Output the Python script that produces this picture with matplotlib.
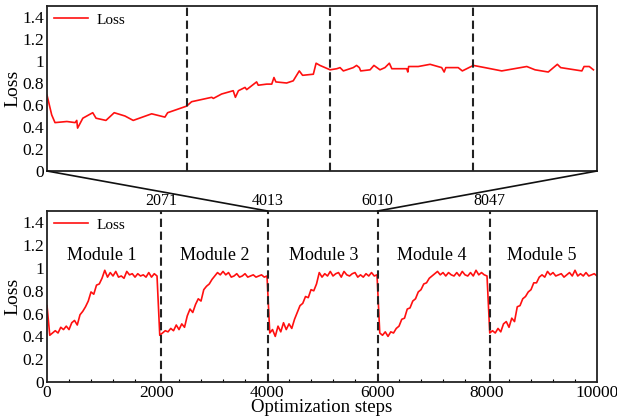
import numpy as np
import matplotlib
matplotlib.use("Agg")
import matplotlib.pyplot as plt
from matplotlib.patches import ConnectionPatch
from matplotlib.ticker import MultipleLocator

plt.rcParams['font.family'] = ['Liberation Serif', 'DejaVu Serif']

# bottom panel: full run, sampled every 50 steps
steps = np.arange(0, 10001, 50)
loss = [
    # module 1 (0 .. 2000)
    0.67, 0.41, 0.43, 0.45, 0.43, 0.48, 0.46, 0.49, 0.46, 0.52,
    0.54, 0.50, 0.59, 0.62, 0.66, 0.71, 0.79, 0.77, 0.85, 0.86,
    0.91, 0.98, 0.92, 0.96, 0.93, 0.97, 0.92, 0.93, 0.91, 0.97,
    0.94, 0.95, 0.92, 0.95, 0.93, 0.94, 0.92, 0.96, 0.92, 0.95,
    0.93,
    # module 2 (2050 .. 4000)
    0.41, 0.43, 0.45, 0.44, 0.47, 0.45, 0.50, 0.46, 0.51, 0.48,
    0.58, 0.64, 0.61, 0.68, 0.73, 0.71, 0.81, 0.84, 0.86, 0.90,
    0.93, 0.96, 0.94, 0.97, 0.94, 0.96, 0.92, 0.93, 0.95, 0.92,
    0.93, 0.95, 0.92, 0.93, 0.94, 0.92, 0.93, 0.94, 0.92, 0.93,
    # module 3 (4050 .. 6000)
    0.43, 0.46, 0.40, 0.49, 0.44, 0.52, 0.46, 0.51, 0.47, 0.55,
    0.61, 0.67, 0.69, 0.75, 0.74, 0.81, 0.80, 0.86, 0.96, 0.92,
    0.95, 0.93, 0.97, 0.93, 0.95, 0.96, 0.92, 0.97, 0.94, 0.93,
    0.95, 0.96, 0.92, 0.94, 0.92, 0.95, 0.93, 0.96, 0.93, 0.94,
    # module 4 (6050 .. 8000)
    0.43, 0.41, 0.44, 0.40, 0.44, 0.43, 0.47, 0.49, 0.55, 0.56,
    0.64, 0.65, 0.71, 0.73, 0.79, 0.81, 0.86, 0.87, 0.91, 0.93,
    0.95, 0.97, 0.94, 0.96, 0.93, 0.96, 0.94, 0.93, 0.96, 0.93,
    0.97, 0.94, 0.93, 0.96, 0.93, 0.98, 0.94, 0.96, 0.94, 0.93,
    # module 5 (8050 .. 10000)
    0.43, 0.45, 0.43, 0.47, 0.44, 0.51, 0.53, 0.48, 0.56, 0.53,
    0.66, 0.67, 0.73, 0.75, 0.79, 0.81, 0.87, 0.87, 0.92, 0.94,
    0.92, 0.97, 0.94, 0.96, 0.93, 0.94, 0.95, 0.92, 0.94, 0.96,
    0.93, 0.98, 0.93, 0.95, 0.93, 0.96, 0.93, 0.94, 0.95, 0.93,
]
module_bounds = [2071, 4013, 6010, 8047]
module_names = ["Module 1", "Module 2", "Module 3", "Module 4", "Module 5"]
module_centers = [1000, 3050, 5030, 7000, 9000]

# top panel: zoom on module 3 (4013 .. 6010)
zoom_range = (4013, 6010)
zoom_steps = [4013, 4030, 4042, 4085, 4115, 4121, 4124, 4143, 4179, 4191,
              4227, 4257, 4296, 4326, 4393, 4441, 4451, 4520, 4538, 4611,
              4617, 4647, 4689, 4697, 4708, 4732, 4738, 4774, 4780, 4811,
              4829, 4837, 4844, 4883, 4907, 4929, 4941, 4980, 4990, 5004,
              5041, 5065, 5077, 5089, 5125, 5137, 5147, 5152, 5186, 5200,
              5222, 5240, 5256, 5265, 5319, 5323, 5326, 5361, 5404, 5446,
              5455, 5461, 5506, 5521, 5561, 5603, 5664, 5755, 5785, 5833,
              5866, 5878, 5955, 5963, 5982, 5997]
zoom_loss = [0.69, 0.51, 0.44, 0.45, 0.44, 0.46, 0.39, 0.48, 0.53, 0.48,
             0.46, 0.53, 0.50, 0.46, 0.52, 0.49, 0.53, 0.59, 0.63, 0.67,
             0.66, 0.70, 0.73, 0.67, 0.73, 0.76, 0.74, 0.81, 0.78, 0.79,
             0.79, 0.85, 0.81, 0.80, 0.82, 0.91, 0.87, 0.88, 0.98, 0.96,
             0.92, 0.93, 0.94, 0.91, 0.94, 0.96, 0.94, 0.91, 0.92, 0.96,
             0.92, 0.94, 0.98, 0.93, 0.93, 0.90, 0.95, 0.95, 0.97, 0.94,
             0.90, 0.94, 0.94, 0.91, 0.96, 0.94, 0.91, 0.95, 0.92, 0.90,
             0.97, 0.94, 0.91, 0.95, 0.95, 0.92]
zoom_marks = [4521, 5041, 5560]

yticks = [0, 0.2, 0.4, 0.6, 0.8, 1, 1.2, 1.4]
ytick_labels = ["0", "0.2", "0.4", "0.6", "0.8", "1", "1.2", "1.4"]

red = '#ff1010'
dash = (0, (4, 2.2))

fig = plt.figure(figsize=(6.17, 4.18), dpi=100)
ax1 = fig.add_axes([0.0762, 0.5909, 0.8914, 0.3947])
ax2 = fig.add_axes([0.0762, 0.0861, 0.8914, 0.4091])

for ax in (ax1, ax2):
    ax.set_ylim(0, 1.5)
    ax.set_yticks(yticks)
    ax.set_yticklabels(ytick_labels)
    ax.tick_params(axis='y', direction='in', length=0, labelsize=12.5, pad=2)
    ax.set_ylabel("Loss", fontsize=14, labelpad=1)
    for s in ax.spines.values():
        s.set_linewidth(1.3)
        s.set_color('#222222')

# top
ax1.plot(zoom_steps, zoom_loss, color=red, lw=1.2, label="Loss")
for m in zoom_marks:
    ax1.axvline(m, color='#222222', lw=1.5, ls=dash)
ax1.set_xlim(*zoom_range)
ax1.set_xticks([])
ax1.legend(loc='upper left', frameon=False, fontsize=11,
           handlelength=2.2, borderaxespad=0.05, handletextpad=0.6)

# bottom
ax2.plot(steps, loss, color=red, lw=1.2, label="Loss")
for b in module_bounds:
    ax2.axvline(b, color='#222222', lw=1.5, ls=dash)
    ax2.text(b, 1.52, str(b), ha='center', va='bottom', fontsize=11.5)
for c, name in zip(module_centers, module_names):
    ax2.text(c, 1.11, name, ha='center', va='center', fontsize=13)
ax2.set_xlim(0, 10000)
ax2.set_xticks([0, 2000, 4000, 6000, 8000, 10000])
ax2.xaxis.set_minor_locator(MultipleLocator(400))
ax2.tick_params(axis='x', which='major', length=0, labelsize=12.5, pad=2)
ax2.tick_params(axis='x', which='minor', direction='in', length=2.5, width=0.8)
ax2.set_xlabel("Optimization steps", fontsize=13.5, labelpad=-1)
ax2.legend(loc='upper left', frameon=False, fontsize=11,
           handlelength=2.2, borderaxespad=0.05, handletextpad=0.6)

# lines linking the zoomed panel to its range
for xa, xb in [(0, zoom_range[0]), (1, zoom_range[1])]:
    con = ConnectionPatch(xyA=(xa, 0), coordsA=ax1.transAxes,
                          xyB=(xb, 1.5), coordsB=ax2.transData,
                          color='#111111', lw=1.2)
    fig.add_artist(con)

fig.savefig("out.png", dpi=100)
